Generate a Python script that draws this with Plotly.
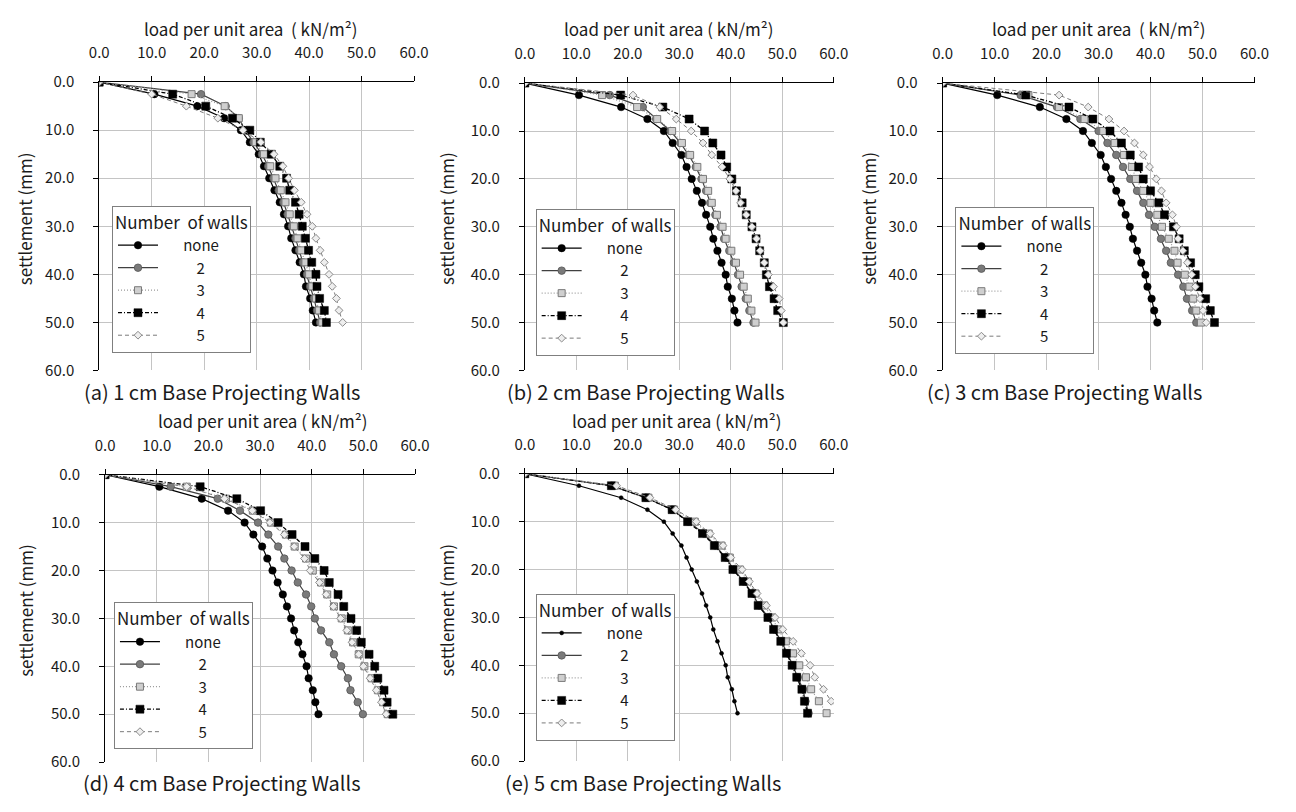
import plotly.graph_objects as go

W, H = 1296, 812
FONT = "Noto Sans CJK KR"

# ---------------- data ----------------
settlement = [0.0, 2.5, 5.0, 7.5, 10.0, 12.5, 15.0, 17.5, 20.0, 22.5, 25.0,
              27.5, 30.0, 32.5, 35.0, 37.5, 40.0, 42.5, 45.0, 47.5, 50.0]

load_none = [0, 10.5, 18.7, 23.8, 27.0, 28.7, 30.4, 31.4, 32.4, 33.4, 34.4,
             35.2, 36.0, 36.6, 37.4, 38.2, 39.0, 39.4, 40.2, 40.7, 41.3]

# (a) 1 cm
load_1cm_w2 = [0, 19.4, 24.1, 26.6, 27.8, 29.4, 31.0, 32.2, 33.2, 34.2, 35.1,
               35.9, 36.7, 37.4, 38.1, 38.8, 39.6, 40.2, 40.9, 41.5, 42.1]
load_1cm_w3 = [0, 17.6, 23.9, 26.6, 28.0, 29.8, 31.4, 32.6, 33.6, 34.6, 35.5,
               36.3, 37.1, 37.8, 38.5, 39.3, 40.0, 40.6, 41.3, 41.9, 42.5]
load_1cm_w4 = [0, 14.0, 20.3, 25.4, 28.7, 30.7, 32.8, 34.4, 35.7, 36.3, 37.4,
               38.1, 38.7, 39.3, 39.9, 40.5, 41.3, 41.5, 42.0, 42.9, 43.3]
load_1cm_w5 = [0, 10.0, 16.6, 22.6, 27.4, 30.8, 33.3, 35.0, 36.1, 37.2, 38.5,
               39.6, 40.6, 41.3, 42.1, 42.9, 43.8, 44.4, 45.2, 45.7, 46.4]

# (b) 2 cm
load_2cm_w2 = [0, 16.5, 22.9, 25.5, 28.3, 30.2, 31.8, 33.2, 34.3, 35.2, 36.0,
               37.0, 38.0, 38.7, 39.7, 40.6, 41.4, 42.1, 42.9, 43.6, 44.4]
load_2cm_w3 = [0, 15.0, 21.8, 25.7, 28.6, 30.5, 32.1, 33.5, 34.6, 35.6, 36.3,
               37.3, 38.4, 39.0, 40.1, 41.0, 41.8, 42.5, 43.3, 44.0, 44.8]
load_2cm_w4 = [0, 18.6, 26.8, 31.9, 34.9, 36.5, 38.1, 39.2, 40.2, 41.1, 42.2,
               43.0, 44.1, 44.9, 45.6, 46.5, 46.9, 47.5, 48.4, 49.1, 50.2]
load_2cm_w5 = [0, 21.0, 26.2, 29.4, 32.3, 34.6, 36.3, 38.3, 39.8, 41.0, 41.9,
               43.0, 44.1, 45.0, 45.7, 46.5, 47.3, 48.3, 49.4, 49.8, 50.2]

# (c) 3 cm
load_3cm_w2 = [0, 15.0, 22.0, 26.5, 30.0, 31.7, 33.4, 34.7, 36.1, 37.4, 38.6,
               39.7, 40.8, 42.0, 43.0, 43.9, 45.3, 46.3, 47.0, 48.0, 48.8]
load_3cm_w3 = [0, 16.5, 22.4, 27.3, 30.9, 33.1, 34.9, 36.4, 37.2, 38.6, 40.0,
               41.3, 42.2, 43.5, 44.6, 45.2, 46.6, 47.5, 48.2, 48.8, 49.7]
load_3cm_w4 = [0, 16.0, 24.3, 28.9, 32.2, 34.4, 36.1, 37.7, 38.6, 40.0, 41.6,
               42.7, 44.4, 45.5, 46.5, 47.7, 48.6, 49.3, 50.6, 51.5, 52.3]
load_3cm_w5 = [0, 22.4, 28.0, 32.0, 34.9, 36.9, 38.6, 39.8, 41.1, 42.1, 43.0,
               44.2, 45.0, 45.3, 46.2, 47.1, 47.9, 48.6, 49.5, 50.1, 50.7]

# (d) 4 cm
load_4cm_w2 = [0, 12.7, 21.8, 26.1, 29.6, 31.6, 33.5, 34.7, 36.1, 37.3, 38.9,
               39.9, 40.6, 41.8, 43.4, 44.3, 45.7, 47.0, 47.5, 48.9, 49.9]
load_4cm_w3 = [0, 15.8, 23.4, 28.6, 32.1, 35.0, 36.7, 38.9, 40.2, 41.8, 43.0,
               44.3, 45.8, 47.0, 48.0, 49.1, 50.2, 51.6, 52.8, 53.8, 54.7]
load_4cm_w4 = [0, 18.4, 25.5, 30.1, 33.5, 36.2, 38.7, 40.6, 42.4, 43.4, 45.1,
               46.2, 47.6, 48.7, 49.6, 51.1, 52.2, 52.8, 54.0, 54.6, 55.7]
load_4cm_w5 = [0, 15.8, 23.1, 28.5, 31.9, 34.7, 36.6, 38.6, 39.7, 41.5, 42.8,
               44.2, 45.6, 46.8, 47.8, 49.1, 50.0, 51.3, 52.5, 53.5, 54.4]

# (e) 5 cm
load_5cm_w2 = [0, 16.8, 23.5, 28.6, 31.8, 34.8, 37.0, 39.0, 40.6, 42.5, 44.2,
               45.5, 47.3, 48.4, 49.8, 51.0, 52.0, 53.0, 54.0, 54.5, 55.1]
load_5cm_w3 = [0, 17.5, 24.0, 29.0, 33.0, 35.7, 38.2, 39.8, 41.8, 43.3, 44.8,
               46.5, 48.0, 49.2, 50.7, 52.1, 53.3, 54.6, 55.6, 57.1, 58.6]
load_5cm_w4 = [0, 16.8, 23.5, 28.6, 31.6, 34.5, 36.8, 38.9, 40.4, 42.4, 44.1,
               45.3, 47.2, 48.3, 49.7, 50.8, 51.9, 52.8, 53.8, 54.3, 54.9]
load_5cm_w5 = [0, 17.8, 24.3, 29.3, 33.3, 36.0, 38.5, 40.0, 42.2, 43.6, 45.1,
               46.9, 48.6, 50.1, 52.1, 53.7, 55.4, 56.3, 58.0, 59.5, 61.2]

series_labels = ["none", "2", "3", "4", "5"]
captions = ["(a) 1 cm Base Projecting Walls", "(b) 2 cm Base Projecting Walls",
            "(c) 3 cm Base Projecting Walls", "(d) 4 cm Base Projecting Walls",
            "(e) 5 cm Base Projecting Walls"]
x_titles = ["load per unit area\u00a0\u00a0( kN/m²)", "load per unit area ( kN/m²)",
            "load per unit area\u00a0\u00a0( kN/m²)", "load per unit area ( kN/m²)",
            "load per unit area ( kN/m²)"]
y_title = "settlement (mm)"
legend_title = "Number\u00a0 of walls"
x_ticks = [0, 10, 20, 30, 40, 50, 60]
y_ticks = [0, 10, 20, 30, 40, 50, 60]

panels = [
    [load_none, load_1cm_w2, load_1cm_w3, load_1cm_w4, load_1cm_w5],
    [load_none, load_2cm_w2, load_2cm_w3, load_2cm_w4, load_2cm_w5],
    [load_none, load_3cm_w2, load_3cm_w3, load_3cm_w4, load_3cm_w5],
    [load_none, load_4cm_w2, load_4cm_w3, load_4cm_w4, load_4cm_w5],
    [load_none, load_5cm_w2, load_5cm_w3, load_5cm_w4, load_5cm_w5],
]

# ---------------- layout geometry (pixels) ----------------
boxes = [(91, 72, 412, 368), (525, 73, 840, 368), (951, 73, 1269, 368),
         (97, 475, 413, 770), (525, 474, 840, 769)]
legend_pos = [(104, 199), (536, 202), (964, 200), (106, 606), (536, 597)]
xtitle_pos = [(245, 17), (672, 17), (1110, 17), (258, 419), (680, 419)]
ytitle_pos = [(15, 212), (445, 212), (875, 212), (15, 614), (445, 614)]
caption_pos = [(216, 390), (648, 390), (1075, 390), (216, 791), (645, 791)]

styles = [
    dict(line=dict(color="#000000", width=1.2, dash="solid"),
         marker=dict(symbol="circle", size=7.5, color="#000000",
                     line=dict(color="#000000", width=0.5))),
    dict(line=dict(color="#404040", width=1.2, dash="solid"),
         marker=dict(symbol="circle", size=7.5, color="#7a7a7a",
                     line=dict(color="#555555", width=0.8))),
    dict(line=dict(color="#9a9a9a", width=1.2, dash="1px,2px"),
         marker=dict(symbol="square", size=7, color="#cfcfcf",
                     line=dict(color="#7a7a7a", width=1))),
    dict(line=dict(color="#000000", width=1.3, dash="4px,2px,1px,2px"),
         marker=dict(symbol="square", size=8, color="#000000",
                     line=dict(color="#000000", width=0.5))),
    dict(line=dict(color="#7a7a7a", width=1, dash="4px,3px"),
         marker=dict(symbol="diamond", size=6, color="#eeeeee",
                     line=dict(color="#8a8a8a", width=1))),
]

pad = {"none": 6, "2": 10, "3": 10, "4": 10, "5": 10}

fig = go.Figure()
layout = dict(
    width=W, height=H, margin=dict(l=0, r=0, t=0, b=0),
    paper_bgcolor="white", plot_bgcolor="white",
    font=dict(family=FONT, size=15, color="#1a1a1a"),
    annotations=[],
)

for i, series in enumerate(panels):
    n = i + 1
    xa = "x" if n == 1 else f"x{n}"
    ya = "y" if n == 1 else f"y{n}"
    lg = "legend" if n == 1 else f"legend{n}"
    for k, (vals, lab) in enumerate(zip(series, series_labels)):
        st = styles[k]
        marker = dict(st["marker"])
        if n == 5 and k == 0:
            marker = dict(marker, size=4)
        fig.add_trace(go.Scatter(
            x=vals, y=settlement, mode="lines+markers",
            name="\u00a0" * pad[lab] + lab,
            line=st["line"], marker=marker,
            xaxis=xa, yaxis=ya, legend=lg, showlegend=True,
            cliponaxis=True,
        ))
    x0, y0, x1, y1 = boxes[i]
    axis_common = dict(
        showgrid=True, gridcolor="#c4c4c4", gridwidth=1,
        showline=True, linecolor="#000000", linewidth=1,
        ticks="outside", ticklen=5, tickcolor="#000000", tickwidth=1,
        tickformat=".1f", zeroline=False,
        tickfont=dict(family=FONT, size=15, color="#1a1a1a"),
    )
    layout["xaxis" if n == 1 else f"xaxis{n}"] = dict(
        axis_common, domain=[x0 / W, x1 / W], anchor=ya, side="top",
        range=[0, 60], tickvals=x_ticks, ticklabelstandoff=12,
    )
    layout["yaxis" if n == 1 else f"yaxis{n}"] = dict(
        axis_common, domain=[1 - y1 / H, 1 - y0 / H], anchor=xa,
        range=[60, 0], tickvals=y_ticks, ticklabelstandoff=16,
    )
    lx, ly = legend_pos[i]
    layout[lg] = dict(
        x=lx / W, y=1 - ly / H, xanchor="left", yanchor="top",
        xref="paper", yref="paper",
        bgcolor="white", bordercolor="#7f7f7f", borderwidth=1,
        font=dict(family=FONT, size=15, color="#1a1a1a"),
        title=dict(text=legend_title, font=dict(family=FONT, size=17, color="#1a1a1a")),
        tracegroupgap=0, itemwidth=40,
    )
    tx, ty = xtitle_pos[i]
    layout["annotations"].append(dict(
        text=x_titles[i], x=tx / W, y=1 - ty / H, xref="paper", yref="paper",
        xanchor="center", yanchor="middle", showarrow=False,
        font=dict(family=FONT, size=17, color="#1a1a1a")))
    sx, sy = ytitle_pos[i]
    layout["annotations"].append(dict(
        text=y_title, x=sx / W, y=1 - sy / H, xref="paper", yref="paper",
        xanchor="center", yanchor="middle", showarrow=False, textangle=-90,
        font=dict(family=FONT, size=17, color="#1a1a1a")))
    cx, cy = caption_pos[i]
    layout["annotations"].append(dict(
        text=captions[i], x=cx / W, y=1 - cy / H, xref="paper", yref="paper",
        xanchor="center", yanchor="middle", showarrow=False,
        font=dict(family=FONT, size=20, color="#1a1a1a")))

fig.update_layout(**layout)
fig.write_html("out.html")
